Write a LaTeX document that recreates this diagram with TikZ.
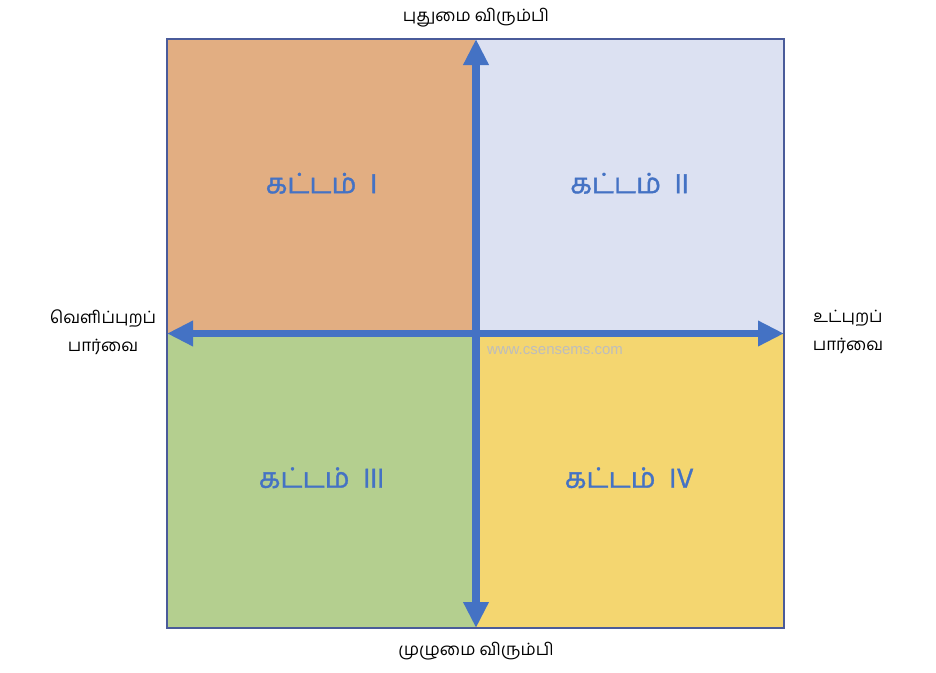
\documentclass[tikz,border=0pt]{standalone}
\usepackage{fontspec}
\usetikzlibrary{arrows.meta}
\newfontfamily\ta[Script=Tamil]{Hind Madurai}
\newfontfamily\tab[Script=Tamil,FakeBold=1.2]{Hind Madurai}
\newfontfamily\wm{Liberation Sans}
\definecolor{qone}{HTML}{E2AE82}
\definecolor{qtwo}{HTML}{DCE1F2}
\definecolor{qthree}{HTML}{B4CF8F}
\definecolor{qfour}{HTML}{F4D670}
\definecolor{axisblue}{HTML}{4472C4}
\definecolor{framec}{HTML}{4A5B9A}
\definecolor{wmgray}{HTML}{BDBDBD}
\tikzset{
  quad/.style={draw=none, minimum width=309pt, minimum height=294.5pt, inner sep=0pt, outer sep=0pt},
  quadlabel/.style={text=axisblue, font=\tab\fontsize{28}{32}\selectfont, inner sep=0pt},
  outlabel/.style={text=black, font=\ta\fontsize{17}{28}\selectfont, align=center, inner sep=0pt},
  axis/.style={draw=axisblue, line width=7.5pt, {Triangle[length=26pt,width=24pt]}-{Triangle[length=26pt,width=24pt]}},
}
\begin{document}
\begin{tikzpicture}[x=1pt,y=-1pt]
\useasboundingbox (0,0) rectangle (936,672);
\node[quad, fill=qone]   (q1) at (321.5,186.25) {};
\node[quad, fill=qtwo]   (q2) at (629.5,186.25) {};
\node[quad, fill=qthree] (q3) at (321.5,480.75) {};
\node[quad, fill=qfour]  (q4) at (629.5,480.75) {};
\node[quadlabel] (l1) at ([yshift=3pt]q1.center) {கட்டம்\ \ I};
\node[quadlabel] (l2) at ([yshift=3pt]q2.center) {கட்டம்\ \ II};
\node[quadlabel] (l3) at ([yshift=3pt]q3.center) {கட்டம்\ \ III};
\node[quadlabel] (l4) at ([yshift=3pt]q4.center) {கட்டம்\ \ IV};
\draw[framec, line width=2pt] (q1.north west) rectangle (q4.south east);
\node[text=wmgray, font=\wm\fontsize{15}{17}\selectfont, inner sep=0pt] (wm) at (555,351) {www.csensems.com};
\draw[axis] (q1.north east) -- (q3.south east);
\draw[axis] (q1.south west) -- (q2.south east);
\node[outlabel] (top) at (476,18) {புதுமை விரும்பி};
\node[outlabel] (bot) at (476,651) {முழுமை விரும்பி};
\node[outlabel] (left) at (103,332) {வெளிப்புறப்\\பார்வை};
\node[outlabel] (right) at (848,332) {உட்புறப்\\பார்வை};
\end{tikzpicture}
\end{document}
